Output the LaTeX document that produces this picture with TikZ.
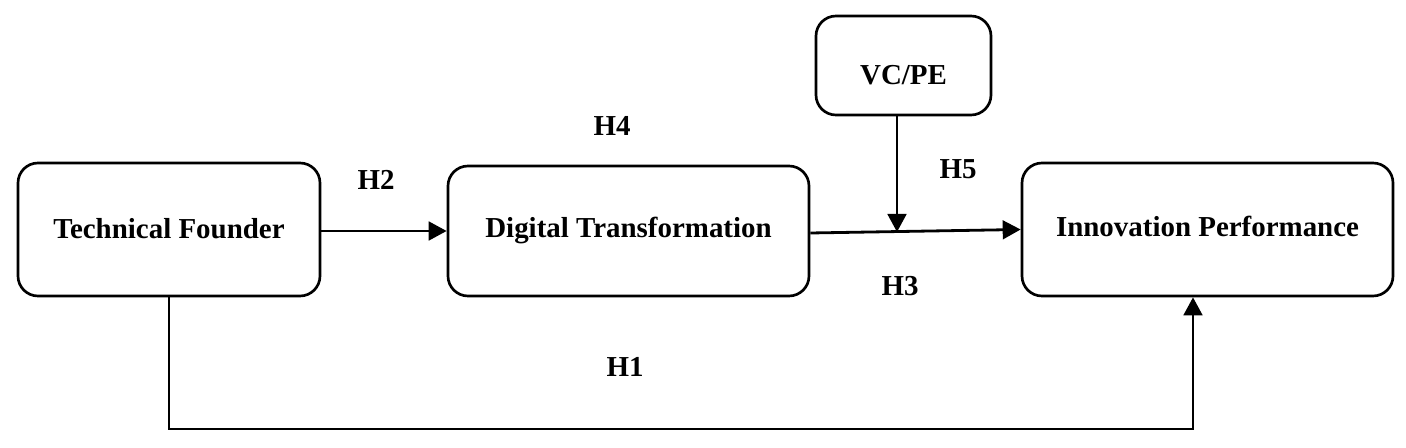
\documentclass[tikz,border=0pt]{standalone}
\usepackage{fontspec}
\setmainfont{Liberation Serif}
\usetikzlibrary{arrows.meta}
\newcommand{\shiftup}[2]{\raisebox{#1}[\height][\depth]{#2}}
\begin{document}
\begin{tikzpicture}[x=0.75pt,y=-0.75pt,
  box/.style={draw, line width=2pt, rounded corners=15pt, inner sep=0pt,
    font=\fontsize{21.7}{26}\bfseries\selectfont},
  lab/.style={inner sep=0pt, font=\fontsize{21.7}{26}\bfseries\selectfont},
  conn/.style={line width=2.1pt, -{Triangle[length=13.5pt,width=14pt]}},
  every node/.append style={anchor=center}]
\useasboundingbox (0,0) rectangle (1406,448);
\node[box, minimum width=226.5pt, minimum height=99.75pt] (TF) at (169,229.5) {\shiftup{0.8pt}{Technical Founder}};
\node[box, minimum width=270.75pt, minimum height=97.5pt] (DT) at (628.5,231) {\shiftup{0pt}{Digital Transformation}};
\node[box, minimum width=278.25pt, minimum height=99.75pt] (IP) at (1207.5,229.5) {\shiftup{2.2pt}{Innovation Performance}};
\node[box, minimum width=131.25pt, minimum height=74.25pt] (VC) at (903.5,65.5) {\shiftup{-7pt}{VC/PE}};
\coordinate (m) at (897,232);
\coordinate (c) at (1193,429);
\draw[conn] (TF.east) ++(0,1.5) -- (DT.west);
\draw[conn] (DT.east) ++(0,2) -- (IP.west);
\draw[conn] (m |- VC.south) -- (m);
\draw[conn] (TF.south) |- (c) -- (c |- IP.south);
\node[lab] (h2) at (376,180) {H2};
\node[lab] (h4) at (612,126) {H4};
\node[lab] (h5) at (958,169) {H5};
\node[lab] (h3) at (900,286) {H3};
\node[lab] (h1) at (625,367) {H1};
\end{tikzpicture}
\end{document}
